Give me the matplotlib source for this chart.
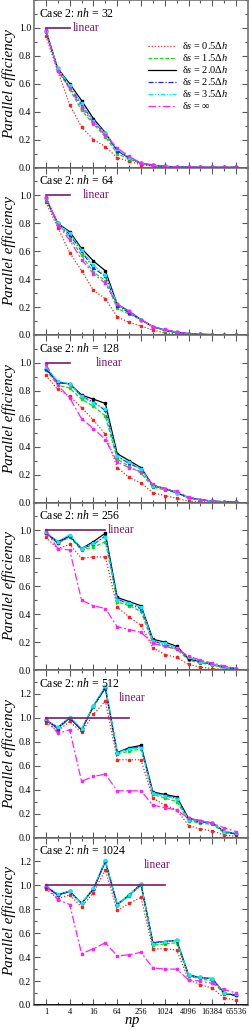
import matplotlib
matplotlib.use('Agg')
import matplotlib.pyplot as plt
from matplotlib.lines import Line2D
from matplotlib.ticker import FixedLocator, NullFormatter, MultipleLocator

plt.rcParams['font.family'] = ['Liberation Serif', 'DejaVu Serif']
plt.rcParams['mathtext.fontset'] = 'custom'
plt.rcParams['mathtext.rm'] = 'Liberation Serif'
plt.rcParams['mathtext.it'] = 'Liberation Serif:italic'

# --- Data ---
nprocs = [1, 2, 4, 8, 16, 32, 64, 128, 256, 512, 1024, 2048, 4096, 8192, 16384, 32768, 65536]
nh_values = [32, 64, 128, 256, 512, 1024]
series_labels = ['δ$s$ = 0.5Δ$h$', 'δ$s$ = 1.5Δ$h$', 'δ$s$ = 2.0Δ$h$',
                 'δ$s$ = 2.5Δ$h$', 'δ$s$ = 3.5Δ$h$', 'δ$s$ = ∞']

# nh = 32
nh32_d05 = [0.94, 0.69, 0.45, 0.29, 0.20, 0.15, 0.07, 0.045, 0.02, 0.01, 0.005, 0.003, 0.002, 0.001, 0.001, 0.001, 0.001]
nh32_d15 = [0.97, 0.70, 0.56, 0.41, 0.31, 0.22, 0.10, 0.06, 0.03, 0.015, 0.008, 0.004, 0.002, 0.001, 0.001, 0.001, 0.001]
nh32_d20 = [0.98, 0.71, 0.60, 0.48, 0.35, 0.25, 0.12, 0.07, 0.03, 0.015, 0.008, 0.004, 0.002, 0.001, 0.001, 0.001, 0.001]
nh32_d25 = [0.98, 0.70, 0.58, 0.45, 0.33, 0.24, 0.12, 0.07, 0.03, 0.015, 0.008, 0.004, 0.002, 0.001, 0.001, 0.001, 0.001]
nh32_d35 = [0.98, 0.71, 0.59, 0.46, 0.33, 0.25, 0.13, 0.07, 0.03, 0.015, 0.008, 0.004, 0.002, 0.001, 0.001, 0.001, 0.001]
nh32_dinf = [0.99, 0.69, 0.57, 0.43, 0.32, 0.23, 0.14, 0.08, 0.03, 0.02, 0.01, 0.005, 0.003, 0.002, 0.001, 0.001, 0.001]

# nh = 64
nh64_d05 = [0.95, 0.77, 0.59, 0.46, 0.32, 0.26, 0.13, 0.09, 0.065, 0.035, 0.015, 0.008, 0.004, 0.002, 0.001, 0.001, 0.001]
nh64_d15 = [0.97, 0.80, 0.70, 0.57, 0.45, 0.39, 0.19, 0.15, 0.11, 0.06, 0.03, 0.015, 0.008, 0.004, 0.002, 0.001, 0.001]
nh64_d20 = [0.98, 0.80, 0.74, 0.62, 0.53, 0.46, 0.22, 0.17, 0.11, 0.06, 0.035, 0.02, 0.01, 0.005, 0.003, 0.002, 0.001]
nh64_d25 = [0.98, 0.80, 0.72, 0.60, 0.48, 0.42, 0.21, 0.16, 0.11, 0.06, 0.035, 0.02, 0.01, 0.005, 0.003, 0.002, 0.001]
nh64_d35 = [0.98, 0.80, 0.73, 0.61, 0.50, 0.43, 0.22, 0.17, 0.11, 0.06, 0.035, 0.02, 0.01, 0.005, 0.003, 0.002, 0.001]
nh64_dinf = [0.99, 0.79, 0.68, 0.54, 0.44, 0.37, 0.22, 0.17, 0.11, 0.06, 0.04, 0.02, 0.01, 0.006, 0.003, 0.002, 0.001]

# nh = 128
nh128_d05 = [0.91, 0.81, 0.76, 0.68, 0.59, 0.49, 0.25, 0.18, 0.14, 0.07, 0.05, 0.03, 0.01, 0.006, 0.003, 0.002, 0.001]
nh128_d15 = [0.95, 0.84, 0.82, 0.74, 0.69, 0.62, 0.31, 0.26, 0.21, 0.11, 0.09, 0.07, 0.03, 0.02, 0.01, 0.005, 0.002]
nh128_d20 = [0.96, 0.86, 0.85, 0.77, 0.74, 0.71, 0.35, 0.30, 0.25, 0.12, 0.10, 0.07, 0.035, 0.02, 0.01, 0.005, 0.002]
nh128_d25 = [0.96, 0.86, 0.85, 0.76, 0.72, 0.66, 0.33, 0.28, 0.24, 0.12, 0.10, 0.07, 0.035, 0.02, 0.01, 0.005, 0.002]
nh128_d35 = [0.97, 0.87, 0.85, 0.76, 0.71, 0.67, 0.33, 0.29, 0.24, 0.12, 0.10, 0.07, 0.035, 0.02, 0.01, 0.005, 0.002]
nh128_dinf = [0.99, 0.84, 0.75, 0.60, 0.53, 0.45, 0.29, 0.25, 0.22, 0.13, 0.10, 0.08, 0.04, 0.02, 0.01, 0.005, 0.002]

# nh = 256
nh256_d05 = [0.95, 0.87, 0.90, 0.80, 0.81, 0.81, 0.45, 0.38, 0.32, 0.16, 0.11, 0.09, 0.04, 0.02, 0.01, 0.005, 0.002]
nh256_d15 = [0.98, 0.91, 0.95, 0.86, 0.88, 0.92, 0.49, 0.46, 0.42, 0.19, 0.17, 0.15, 0.07, 0.05, 0.035, 0.015, 0.008]
nh256_d20 = [0.98, 0.92, 0.96, 0.87, 0.92, 0.98, 0.52, 0.49, 0.46, 0.22, 0.20, 0.17, 0.08, 0.06, 0.04, 0.02, 0.01]
nh256_d25 = [0.98, 0.91, 0.96, 0.87, 0.90, 0.96, 0.51, 0.47, 0.44, 0.21, 0.18, 0.16, 0.09, 0.06, 0.04, 0.02, 0.01]
nh256_d35 = [0.99, 0.92, 0.97, 0.87, 0.91, 0.95, 0.50, 0.48, 0.45, 0.21, 0.19, 0.16, 0.09, 0.06, 0.04, 0.02, 0.01]
nh256_dinf = [1.00, 0.87, 0.86, 0.50, 0.46, 0.44, 0.31, 0.29, 0.27, 0.19, 0.17, 0.15, 0.10, 0.07, 0.05, 0.03, 0.01]

# nh = 512
nh512_d05 = [0.96, 0.89, 0.97, 0.88, 1.03, 1.14, 0.65, 0.65, 0.65, 0.33, 0.27, 0.23, 0.10, 0.07, 0.055, 0.02, 0.01]
nh512_d15 = [0.98, 0.91, 1.00, 0.90, 1.09, 1.25, 0.70, 0.72, 0.74, 0.36, 0.33, 0.30, 0.14, 0.12, 0.11, 0.04, 0.03]
nh512_d20 = [0.98, 0.92, 1.00, 0.90, 1.10, 1.25, 0.71, 0.75, 0.77, 0.38, 0.36, 0.34, 0.16, 0.14, 0.12, 0.05, 0.03]
nh512_d25 = [0.98, 0.91, 1.00, 0.90, 1.10, 1.26, 0.71, 0.74, 0.76, 0.37, 0.35, 0.33, 0.15, 0.13, 0.12, 0.05, 0.03]
nh512_d35 = [0.99, 0.92, 1.01, 0.91, 1.10, 1.27, 0.71, 0.74, 0.75, 0.37, 0.35, 0.32, 0.15, 0.14, 0.12, 0.05, 0.04]
nh512_dinf = [1.00, 0.87, 0.90, 0.47, 0.51, 0.53, 0.39, 0.39, 0.39, 0.27, 0.25, 0.23, 0.16, 0.14, 0.12, 0.08, 0.05]

# nh = 1024
nh1024_d05 = [0.97, 0.89, 0.92, 0.82, 0.94, 1.13, 0.79, 0.85, 0.90, 0.47, 0.47, 0.46, 0.21, 0.17, 0.14, 0.06, 0.04]
nh1024_d15 = [0.99, 0.92, 0.95, 0.85, 0.97, 1.20, 0.84, 0.91, 1.00, 0.50, 0.51, 0.52, 0.24, 0.22, 0.20, 0.09, 0.08]
nh1024_d20 = [0.99, 0.92, 0.95, 0.85, 0.97, 1.20, 0.84, 0.92, 1.01, 0.52, 0.53, 0.54, 0.25, 0.23, 0.22, 0.10, 0.08]
nh1024_d25 = [0.99, 0.92, 0.95, 0.85, 0.97, 1.20, 0.84, 0.92, 1.01, 0.52, 0.53, 0.54, 0.25, 0.23, 0.22, 0.10, 0.08]
nh1024_d35 = [1.00, 0.93, 0.95, 0.85, 0.98, 1.21, 0.84, 0.92, 1.01, 0.51, 0.53, 0.54, 0.25, 0.23, 0.22, 0.10, 0.09]
nh1024_dinf = [1.00, 0.88, 0.84, 0.43, 0.47, 0.52, 0.41, 0.42, 0.44, 0.31, 0.30, 0.30, 0.21, 0.20, 0.18, 0.13, 0.10]

panel_data = [
    [nh32_d05, nh32_d15, nh32_d20, nh32_d25, nh32_d35, nh32_dinf],
    [nh64_d05, nh64_d15, nh64_d20, nh64_d25, nh64_d35, nh64_dinf],
    [nh128_d05, nh128_d15, nh128_d20, nh128_d25, nh128_d35, nh128_dinf],
    [nh256_d05, nh256_d15, nh256_d20, nh256_d25, nh256_d35, nh256_dinf],
    [nh512_d05, nh512_d15, nh512_d20, nh512_d25, nh512_d35, nh512_dinf],
    [nh1024_d05, nh1024_d15, nh1024_d20, nh1024_d25, nh1024_d35, nh1024_dinf],
]

# "linear" reference segment end and label placement per panel
linear_end = [4, 4, 4, 32, 128, 1024]
linear_text_xy = [(4.8, 1.0), (8.6, 1.0), (18.2, 1.0), (36.5, 1.0), (70.5, 1.165), (300, 1.17)]
ytop = [1.2, 1.2, 1.2, 1.2, 1.4, 1.4]

# --- Style ---
colors = ['#ff2020', '#10e010', 'black', '#2020ff', '#00f0f0', '#ff20ff']
styles = [(0, (1, 1.5)), (0, (3, 1.5)), '-', (0, (4, 1.5, 1, 1.5)),
          (0, (4, 1.2, 1, 1.2, 1, 1.2)), (0, (6, 2, 1.5, 2))]
purple = '#7a1d66'
spine_col = '0.45'

W, H = 249, 1031
fig = plt.figure(figsize=(W / 100, H / 100), dpi=100)
left = 34 / W
width = 214 / W
ph = 167.5 / H
bottom0 = 1 - 1005 / H

for i, nh in enumerate(nh_values):
    b = bottom0 + (5 - i) * ph
    ax = fig.add_axes([left, b, width, ph])
    for j, vals in enumerate(panel_data[i]):
        ax.plot(nprocs, vals, color=colors[j], linestyle=styles[j], lw=0.9,
                marker='s', ms=2.0, mec=colors[j], mfc=colors[j])
    ax.plot([1, linear_end[i]], [1.0, 1.0], color=purple, lw=1.2)
    tx, ty = linear_text_xy[i]
    ax.text(tx, ty, 'linear', color=purple, fontsize=8.5, ha='left', va='center')
    ax.axhline(0, color='black', lw=1.2, zorder=5)

    ax.set_xscale('log', base=2)
    ax.set_xlim(0.5, 131072)
    ax.set_ylim(0, ytop[i])
    ax.xaxis.set_major_locator(FixedLocator([1, 4, 16, 64, 256, 1024, 4096, 16384, 65536]))
    ax.xaxis.set_minor_locator(FixedLocator([2, 8, 32, 128, 512, 2048, 8192, 32768]))
    ax.xaxis.set_minor_formatter(NullFormatter())
    ax.yaxis.set_major_locator(MultipleLocator(0.2))
    ax.yaxis.set_minor_locator(MultipleLocator(0.1))
    yt = [v / 10 for v in range(0, int(round(ytop[i] * 10)), 2)]
    ax.set_yticks(yt)
    ax.set_yticklabels([f'{v:.1f}' for v in yt])
    ax.tick_params(which='both', direction='in', top=True, right=True, color='0.35', width=0.8)
    ax.tick_params(which='major', length=4)
    ax.tick_params(which='minor', length=2)
    ax.tick_params(axis='y', labelsize=7, pad=2)
    if i < 5:
        ax.tick_params(axis='x', labelbottom=False)
    else:
        ax.set_xticklabels(['1', '4', '16', '64', '256', '1024', '4096', '16384', '65536'])
        ax.tick_params(axis='x', labelsize=6, pad=2)
        ax.set_xlabel('$np$', fontsize=10.5, labelpad=0)
        ax.xaxis.set_label_coords(0.458, -0.058)
    for s in ax.spines.values():
        s.set_color(spine_col)
        s.set_linewidth(1.2)

    ax.set_ylabel('Parallel efficiency', fontsize=10.8, style='italic')
    ax.yaxis.set_label_coords(-0.085, 0.5)
    ax.text(0.023, 0.922, f'Case 2: $nh$ = {nh}', transform=ax.transAxes,
            fontsize=8.5, ha='left', va='center')

    if i == 0:
        handles = [Line2D([], [], color=colors[j], linestyle=styles[j], lw=0.9)
                   for j in range(6)]
        ax.legend(handles, series_labels, loc='upper left', bbox_to_anchor=(0.535, 0.76),
                  frameon=False, fontsize=7.5, handlelength=2.6, handletextpad=0.6,
                  labelspacing=0.1, borderpad=0, borderaxespad=0)

fig.savefig('out.png', dpi=100)
print('Saved to out.png')
